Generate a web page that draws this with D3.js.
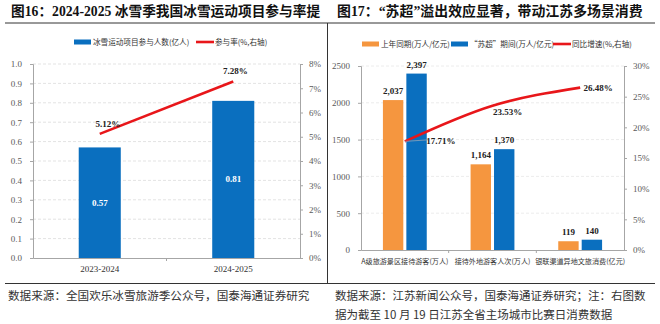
<!DOCTYPE html>
<html>
<head>
<meta charset="utf-8">
<script src="https://cdn.jsdelivr.net/npm/d3@7"></script>
<style>
  body { margin: 0; background: #fff; }
  svg { display: block; }
  .tick line { stroke: #a6a6a6; }
  .domain { stroke: #a6a6a6; }
</style>
</head>
<body>
<div id="chart"></div>
<script>
// panel sizes
const width = 660;
const height = 324;

// left panel data: snow sports participation
const seasons = ["2023-2024", "2024-2025"];
const participants = [0.57, 0.81];      // 亿人
const participationRate = [5.12, 7.28]; // %

// right panel data: "苏超" effect
const categories = ["A级旅游景区接待游客(万人)", "接待外地游客人次(万人)", "银联渠道异地文旅消费(亿元)"];
const lastYear = [2037, 1164, 119];
const suChao = [2397, 1370, 140];
const growth = [17.71, 23.53, 26.48];   // %

const leftTicks = [0, 0.1, 0.2, 0.3, 0.4, 0.5, 0.6, 0.7, 0.8, 0.9, 1.0];
const leftRateTicks = [0, 1, 2, 3, 4, 5, 6, 7, 8];
const rightTicks = [0, 500, 1000, 1500, 2000, 2500];
const rightRateTicks = [0, 5, 10, 15, 20, 25, 30];

const blue = "#0a6fbf";
const orange = "#f5963f";
const red = "#e8161a";
const cjk = '"Noto Sans CJK SC", sans-serif';
const serif = '"Liberation Serif", serif';

const svg = d3.select("#chart")
  .append("svg")
  .attr("width", width)
  .attr("height", height);

// axis tick labels in a serif face
function styleTicks(g) {
  g.selectAll(".tick text")
    .attr("font-family", serif)
    .attr("font-size", "9px")
    .attr("fill", "#595959");
}

// titles and frame lines
svg.append("text")
  .attr("x", 11).attr("y", 16)
  .attr("font-family", '"Liberation Serif", "Noto Sans CJK SC", serif')
  .attr("font-weight", "bold").attr("font-size", "13.7px").attr("fill", "#111")
  .text("图16：2024-2025 冰雪季我国冰雪运动项目参与率提");
svg.append("text")
  .attr("x", 337).attr("y", 16)
  .attr("font-family", '"Liberation Serif", "Noto Sans CJK SC", serif')
  .attr("font-weight", "bold").attr("font-size", "13.9px").attr("fill", "#111")
  .text("图17：“苏超”溢出效应显著，带动江苏多场景消费");

svg.append("line").attr("x1", 5).attr("x2", 655).attr("y1", 23).attr("y2", 23)
  .attr("stroke", "#333").attr("stroke-width", 1);
svg.append("line").attr("x1", 327.5).attr("x2", 327.5).attr("y1", 23).attr("y2", 283)
  .attr("stroke", "#333").attr("stroke-width", 1);
svg.append("line").attr("x1", 5).attr("x2", 655).attr("y1", 283.5).attr("y2", 283.5)
  .attr("stroke", "#333").attr("stroke-width", 1);

const footer = svg.append("g")
  .attr("font-family", cjk).attr("fill", "#333");
footer.append("text").attr("x", 8).attr("y", 300).attr("font-size", "11.6px")
  .text("数据来源：全国欢乐冰雪旅游季公众号，国泰海通证券研究");
footer.append("text").attr("x", 335).attr("y", 300).attr("font-size", "11.5px")
  .text("数据来源：江苏新闻公众号，国泰海通证券研究；注：右图数");
footer.append("text").attr("x", 335).attr("y", 319).attr("font-size", "11.5px")
  .text("据为截至 10 月 19 日江苏全省主场城市比赛日消费数据");

/* ---------- left panel ---------- */

const L = {left: 33, right: 300, top: 64, bottom: 258};

const x1 = d3.scaleBand()
  .domain(seasons)
  .range([L.left, L.right])
  .paddingInner(0.685)
  .paddingOuter(0.3425);

const y1 = d3.scaleLinear().domain([0, 1]).range([L.bottom, L.top]);
const y1r = d3.scaleLinear().domain([0, 8]).range([L.bottom, L.top]);

// dashed grid
svg.append("g")
  .selectAll("line")
  .data(leftTicks.slice(1))
  .join("line")
    .attr("x1", L.left).attr("x2", L.right)
    .attr("y1", d => y1(d)).attr("y2", d => y1(d))
    .attr("stroke", "#e3e3e3").attr("stroke-dasharray", "3,2");

svg.append("g")
  .attr("transform", `translate(${L.left},0)`)
  .call(d3.axisLeft(y1).tickValues(leftTicks).tickFormat(d3.format(".1f")).tickSize(3).tickPadding(8))
  .call(styleTicks);

svg.append("g")
  .attr("transform", `translate(${L.right},0)`)
  .call(d3.axisRight(y1r).tickValues(leftRateTicks).tickFormat(d => d + "%").tickSize(3).tickPadding(6))
  .call(styleTicks);

// x axis with ticks between categories
const xAxis1 = svg.append("g")
  .attr("transform", `translate(0,${L.bottom})`)
  .call(d3.axisBottom(x1).tickSize(0).tickPadding(8))
  .call(styleTicks);
xAxis1.selectAll(".tick text").attr("fill", "#333");
xAxis1.append("line")
  .attr("x1", (x1(seasons[0]) + x1.bandwidth() + x1(seasons[1])) / 2)
  .attr("x2", (x1(seasons[0]) + x1.bandwidth() + x1(seasons[1])) / 2)
  .attr("y1", 0).attr("y2", 3).attr("stroke", "#a6a6a6");

svg.append("g")
  .selectAll("rect")
  .data(participants)
  .join("rect")
    .attr("x", (d, i) => x1(seasons[i]))
    .attr("y", d => y1(d))
    .attr("width", x1.bandwidth())
    .attr("height", d => L.bottom - y1(d))
    .attr("fill", blue);

svg.append("g")
  .selectAll("text")
  .data(participants)
  .join("text")
    .attr("x", (d, i) => x1(seasons[i]) + x1.bandwidth() / 2)
    .attr("y", d => y1(d) + (L.bottom - y1(d)) / 2 + 3)
    .attr("text-anchor", "middle")
    .attr("font-family", serif).attr("font-weight", "bold").attr("font-size", "9px")
    .attr("fill", "#fff")
    .text(d => d.toFixed(2));

const cx1 = (d, i) => x1(seasons[i]) + x1.bandwidth() / 2;

svg.append("path")
  .datum(participationRate)
  .attr("fill", "none")
  .attr("stroke", red)
  .attr("stroke-width", 2.6)
  .attr("d", d3.line().x(cx1).y(d => y1r(d)));

svg.append("g")
  .selectAll("text")
  .data(participationRate)
  .join("text")
    .attr("x", (d, i) => cx1(d, i) + (i === 0 ? 8 : 2))
    .attr("y", d => y1r(d) - 7)
    .attr("text-anchor", "middle")
    .attr("font-family", serif).attr("font-weight", "bold").attr("font-size", "9px")
    .attr("fill", "#222")
    .text(d => d.toFixed(2) + "%");

// legend
const leg1 = svg.append("g").attr("font-family", cjk).attr("font-size", "7.6px").attr("fill", "#333");
leg1.append("rect").attr("x", 74).attr("y", 39.5).attr("width", 17).attr("height", 5).attr("fill", blue);
leg1.append("text").attr("x", 93).attr("y", 45).text("冰雪运动项目参与人数(亿人)");
leg1.append("line").attr("x1", 196).attr("x2", 214).attr("y1", 42).attr("y2", 42)
  .attr("stroke", red).attr("stroke-width", 2.6);
leg1.append("text").attr("x", 215).attr("y", 45).text("参与率(%,右轴)");

/* ---------- right panel ---------- */

const R = {left: 361, right: 624, top: 66, bottom: 250};

const x2 = d3.scaleBand()
  .domain(categories)
  .range([R.left, R.right])
  .paddingInner(0.5)
  .paddingOuter(0.25);

const series = ["lastYear", "suChao"];
const xs = d3.scaleBand()
  .domain(series)
  .range([0, x2.bandwidth()])
  .paddingInner(0.13);

const y2 = d3.scaleLinear().domain([0, 2500]).range([R.bottom, R.top]);
const y2r = d3.scaleLinear().domain([0, 30]).range([R.bottom, R.top]);

svg.append("g")
  .selectAll("line")
  .data(rightTicks.slice(1))
  .join("line")
    .attr("x1", R.left).attr("x2", R.right)
    .attr("y1", d => y2(d)).attr("y2", d => y2(d))
    .attr("stroke", "#ececec").attr("stroke-dasharray", "3,2");

svg.append("g")
  .attr("transform", `translate(${R.left},0)`)
  .call(d3.axisLeft(y2).tickValues(rightTicks).tickFormat(d3.format("d")).tickSize(3).tickPadding(8))
  .call(styleTicks);

svg.append("g")
  .attr("transform", `translate(${R.right},0)`)
  .call(d3.axisRight(y2r).tickValues(rightRateTicks).tickFormat(d => d + "%").tickSize(3).tickPadding(6))
  .call(styleTicks);

const xAxis2 = svg.append("g")
  .attr("transform", `translate(0,${R.bottom})`)
  .call(d3.axisBottom(x2).tickSize(0).tickPadding(9));
xAxis2.selectAll(".tick text")
  .attr("font-family", cjk).attr("font-size", "7.1px").attr("fill", "#333");
xAxis2.selectAll(".sep")
  .data(categories.slice(1))
  .join("line")
    .attr("class", "sep")
    .attr("x1", d => x2(d) - x2.step() * x2.paddingInner() / 2)
    .attr("x2", d => x2(d) - x2.step() * x2.paddingInner() / 2)
    .attr("y1", 0).attr("y2", 3).attr("stroke", "#a6a6a6");

const groups = svg.append("g")
  .selectAll("g")
  .data(categories)
  .join("g")
    .attr("transform", d => `translate(${x2(d)},0)`);

const pairs = (i) => [
  {key: "lastYear", value: lastYear[i], color: orange},
  {key: "suChao", value: suChao[i], color: blue}
];

groups.selectAll("rect")
  .data((d, i) => pairs(i))
  .join("rect")
    .attr("x", d => xs(d.key))
    .attr("y", d => y2(d.value))
    .attr("width", xs.bandwidth())
    .attr("height", d => R.bottom - y2(d.value))
    .attr("fill", d => d.color);

groups.selectAll("text")
  .data((d, i) => pairs(i))
  .join("text")
    .attr("x", d => xs(d.key) + xs.bandwidth() / 2)
    .attr("y", d => y2(d.value) - 6)
    .attr("text-anchor", "middle")
    .attr("font-family", serif).attr("font-weight", "bold").attr("font-size", "9px")
    .attr("fill", "#222")
    .text(d => d3.format(",")(d.value));

const cx2 = (d, i) => x2(categories[i]) + x2.bandwidth() / 2;

svg.append("path")
  .datum(growth)
  .attr("fill", "none")
  .attr("stroke", red)
  .attr("stroke-width", 2.6)
  .attr("d", d3.line().x(cx2).y(d => y2r(d)).curve(d3.curveMonotoneX));

// leader line for the first growth label
svg.append("line")
  .attr("x1", cx2(growth[0], 0)).attr("y1", y2r(growth[0]))
  .attr("x2", cx2(growth[0], 0) + 23).attr("y2", y2r(growth[0]) - 1.5)
  .attr("stroke", "#8fa3b8").attr("stroke-width", 0.8);

const growthOffset = [[36, 3], [15, 9], [18, 3]];
svg.append("g")
  .selectAll("text")
  .data(growth)
  .join("text")
    .attr("x", (d, i) => cx2(d, i) + growthOffset[i][0])
    .attr("y", (d, i) => y2r(d) + growthOffset[i][1])
    .attr("text-anchor", "middle")
    .attr("font-family", serif).attr("font-weight", "bold").attr("font-size", "9px")
    .attr("fill", "#222")
    .text(d => d.toFixed(2) + "%");

const leg2 = svg.append("g").attr("font-family", cjk).attr("font-size", "7.6px").attr("fill", "#333");
leg2.append("rect").attr("x", 362).attr("y", 41.5).attr("width", 17).attr("height", 5).attr("fill", orange);
leg2.append("text").attr("x", 381).attr("y", 47).text("上年同期(万人/亿元)");
leg2.append("rect").attr("x", 451).attr("y", 41.5).attr("width", 17).attr("height", 5).attr("fill", blue);
leg2.append("text").attr("x", 470).attr("y", 47).text("“苏超”期间(万人/亿元)");
leg2.append("line").attr("x1", 553).attr("x2", 571).attr("y1", 44).attr("y2", 44)
  .attr("stroke", red).attr("stroke-width", 2.6);
leg2.append("text").attr("x", 572).attr("y", 47).text("同比增速(%,右轴)");
</script>
</body>
</html>
